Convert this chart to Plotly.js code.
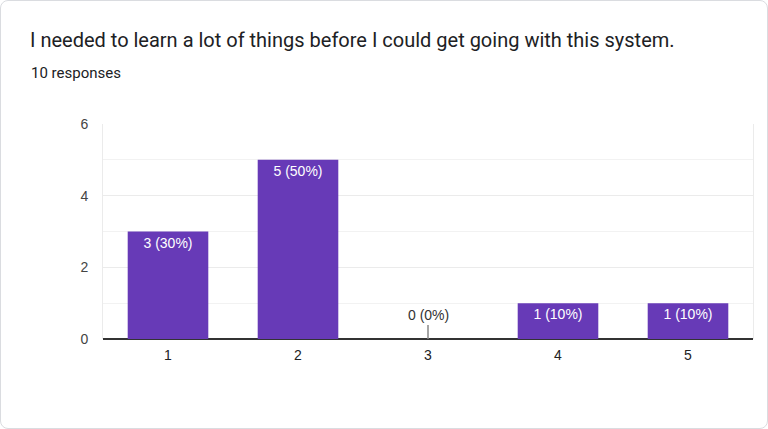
<!DOCTYPE html>
<html><head><meta charset="utf-8">
<script src="https://cdn.plot.ly/plotly-3.0.1.min.js"></script>
<style>
html,body{margin:0;padding:0;background:#fff;}
#card{position:absolute;left:0;top:0;width:766px;height:427px;border:1px solid #dadce0;border-radius:8px;}
#chart{position:absolute;left:0;top:0;width:768px;height:429px;}
</style></head>
<body><div id="card"></div><div id="chart"></div>
<script>
const categories = ['1','2','3','4','5'];
const counts = [3,5,0,1,1];
const total = 10;
const yTicks = [0,2,4,6];
const titleText = 'I needed to learn a lot of things before I could get going with this system.';
const subtitleText = total + ' responses';

const labels = counts.map(c => c + ' (' + Math.round(c/total*100) + '%)');
const purple = '#673ab7';
const arial = 'Arial, "Liberation Sans", sans-serif';

const trace = {
  type:'bar', x:categories, y:counts,
  marker:{color:purple},
  text: counts.map((c,i)=> c>0 ? labels[i] : ''),
  textposition:'inside', insidetextanchor:'end',
  textfont:{family:arial, size:14, color:'#ffffff'},
  constraintext:'none', cliponaxis:false,
  hoverinfo:'none'
};

const zeroAnn = counts.map((c,i)=>c===0 ? {
  x:i, y:c, xref:'x', yref:'y', text:labels[i],
  showarrow:true, arrowhead:0, arrowwidth:1.5, arrowcolor:'#888', ax:0, ay:-14,
  font:{family:arial, size:14, color:'#333'}, yanchor:'bottom'
} : null).filter(a=>a);

const layout = {
  width:768, height:429,
  margin:{l:103, r:15, t:124, b:90},
  paper_bgcolor:'rgba(0,0,0,0)', plot_bgcolor:'#fff',
  bargap:0.38,
  showlegend:false,
  title:{text:titleText, x:30/768, xanchor:'left', xref:'container', y:1-40/429, yanchor:'middle', yref:'container',
    font:{family:'Roboto, Arial, sans-serif', size:20, color:'#202124'}},
  xaxis:{type:'category', showgrid:false, zeroline:false, showline:false, ticks:'', ticklabelstandoff:6,
    tickfont:{family:arial, size:14, color:'#222'}},
  yaxis:{range:[0,6], tickvals:yTicks, showgrid:true, gridcolor:'#ebebeb', gridwidth:1,
    minor:{dtick:1, showgrid:true, gridcolor:'#f2f2f2', gridwidth:1},
    zeroline:true, zerolinecolor:'#333', zerolinewidth:2,
    showline:true, mirror:true, linecolor:'#ebebeb', linewidth:1, ticks:'', ticklabelstandoff:11,
    tickfont:{family:arial, size:14, color:'#444'}},
  annotations:[{
    text:subtitleText, xref:'paper', yref:'paper', x:(29-103)/650, y:1+(124-73)/215,
    xanchor:'left', yanchor:'middle', showarrow:false,
    font:{family:'Roboto, Arial, sans-serif', size:15, color:'#202124'}
  }].concat(zeroAnn)
};

Plotly.newPlot('chart',[trace],layout,{displayModeBar:false, staticPlot:true});
</script></body></html>
